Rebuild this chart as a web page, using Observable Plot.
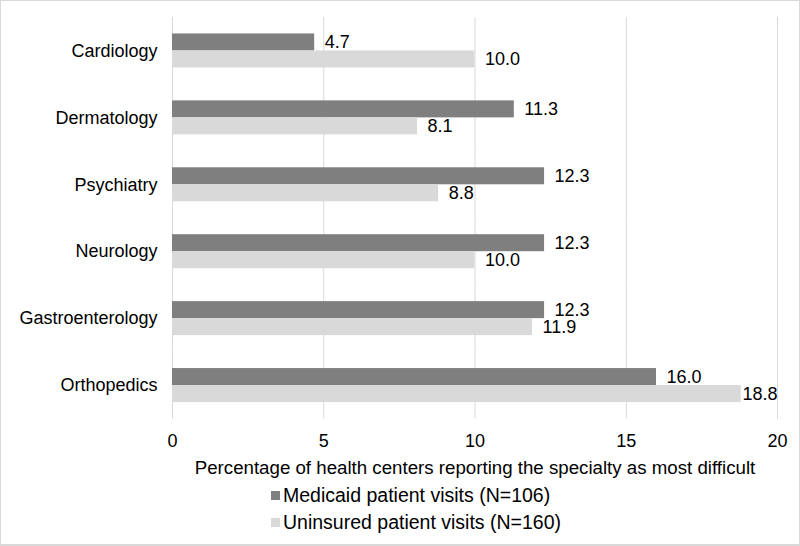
<!DOCTYPE html>
<html>
<head>
<meta charset="utf-8">
<script src="https://cdn.jsdelivr.net/npm/d3@7"></script>
<script src="https://cdn.jsdelivr.net/npm/@observablehq/plot@0.6"></script>
<style>
  html, body { margin: 0; padding: 0; background: #fff; }
  #wrap { position: relative; width: 800px; height: 546px; box-sizing: border-box; border: 1px solid #d9d9d9; border-bottom-width: 2px; font-family: "Liberation Sans", Arial, sans-serif; overflow: hidden; }
  #legend { position: absolute; left: 270px; top: 481px; font-size: 19.5px; color: #000; }
  .row { display: flex; align-items: center; height: 27px; line-height: 27px; }
  .sw { width: 9px; height: 9px; margin-right: 3px; flex: none; }
</style>
</head>
<body>
<div id="wrap"><div id="chart"></div><div id="legend"></div></div>
<script>
const categories = ["Cardiology", "Dermatology", "Psychiatry", "Neurology", "Gastroenterology", "Orthopedics"];
const seriesNames = ["Medicaid patient visits (N=106)", "Uninsured patient visits (N=160)"];
const medicaid = [4.7, 11.3, 12.3, 12.3, 12.3, 16.0];
const uninsured = [10.0, 8.1, 8.8, 10.0, 11.9, 18.8];
const xTicks = [0, 5, 10, 15, 20];
const colors = ["#7f7f7f", "#d9d9d9"];
const xLabel = "Percentage of health centers reporting the specialty as most difficult";

const data = [];
categories.forEach((c, i) => {
  data.push({category: c, series: seriesNames[0], value: medicaid[i]});
  data.push({category: c, series: seriesNames[1], value: uninsured[i]});
});
// labels that would run past the right edge of the plot are pulled back inside it (as in the source)
const fits = d => d.value <= 18.4;

const chart = Plot.plot({
  width: 798,
  height: 490,
  marginLeft: 171,
  marginRight: 22,
  marginTop: 16,
  marginBottom: 72.5,
  style: {fontFamily: "Liberation Sans, Arial, sans-serif", fontSize: "18px", color: "#000", background: "transparent", overflow: "visible"},
  x: {domain: [0, 20]},
  fy: {domain: categories, padding: 0, round: false},
  y: {domain: seriesNames, paddingInner: 0, paddingOuter: 0.968, round: false, axis: null},
  color: {domain: seriesNames, range: colors},
  marks: [
    Plot.ruleX(xTicks, {stroke: "#d9d9d9", strokeWidth: 1}),
    Plot.barX(data, {x: "value", y: "series", fy: "category", fill: "series"}),
    Plot.text(data, {filter: fits, x: "value", y: "series", fy: "category", text: d => d.value.toFixed(1), textAnchor: "start", dx: 10, fontSize: 18, fill: "#000"}),
    Plot.text(data, {filter: d => !fits(d), frameAnchor: "right", y: "series", fy: "category", text: d => d.value.toFixed(1), textAnchor: "end", fontSize: 18, fill: "#000"}),
    Plot.axisFy({anchor: "left", tickSize: 0, tickPadding: 15, label: null, fontSize: 18}),
    Plot.axisX({ticks: xTicks, tickSize: 0, tickPadding: 15, fontSize: 18, label: null}),
    Plot.axisX({ticks: [], tickSize: 0, fontSize: 18.7, label: xLabel, labelAnchor: "center", labelOffset: 55, labelArrow: "none"})
  ]
});
document.getElementById("chart").appendChild(chart);

const legend = document.getElementById("legend");
seriesNames.forEach((s, i) => {
  const row = document.createElement("div");
  row.className = "row";
  const sw = document.createElement("span");
  sw.className = "sw";
  sw.style.background = colors[i];
  const t = document.createElement("span");
  t.textContent = s;
  row.appendChild(sw);
  row.appendChild(t);
  legend.appendChild(row);
});
</script>
</body>
</html>
